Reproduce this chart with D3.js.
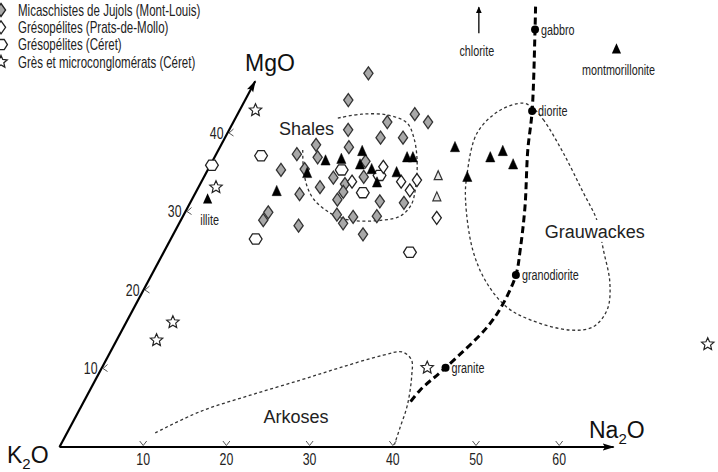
<!DOCTYPE html>
<html><head><meta charset="utf-8">
<script src="https://cdn.jsdelivr.net/npm/d3@7"></script>
<style>body{margin:0;background:#fff}svg{display:block}</style>
</head><body>
<svg id="c" width="718" height="472"></svg>
<script>
// ---- tick labels ----
const naTicks = [10, 20, 30, 40, 50, 60];
const mgTicks = [10, 20, 30, 40];
const legendLabels = ["Micaschistes de Jujols (Mont-Louis)", "Grésopélites (Prats-de-Mollo)", "Grésopélites (Céret)", "Grès et microconglomérats (Céret)"];
// ---- samples : [Na2O, MgO] ----
const jujols = [[13.1,47.6],[12.4,44.2],[21.3,42.4],[23.4,41.4],[18.5,41.4],[14.3,40.4],[18.7,39.4],[21.4,39.4],[11.4,38.5],[15.5,38.2],[9.7,37.3],[12.4,36.9],[18.4,36.4],[8.8,35.3],[11.6,35.4],[15.6,34.3],[19.2,34.4],[14.6,33.1],[17.4,33.5],[12.6,32.2],[17.7,32.5],[17.5,31.5],[22.7,31.3],[25.7,31.1],[10.0,29.9],[9.9,28.9],[18.4,29.6],[20.5,29.3],[23.3,29.4],[14.5,28.2],[19.7,28.5],[22.8,27.1]];
const prats = [[20.9,35.7],[18.1,33.8],[24.0,33.8],[25.8,34.0],[25.6,32.7],[30.6,29.2]];
const ceret = [[0.2,35.9],[5.5,37.1],[10.2,26.5],[16.1,35.3],[21.0,34.6],[20.1,32.4],[29.6,24.8]];
const gres = [[1.9,42.9],[2.1,33.1],[5.6,15.9],[4.8,13.6],[39.1,10.1],[71.3,13.1]];
// reference shales (black triangles) and grey triangles
const shalesRef = [[13.6,36.4],[15.4,36.6],[17.4,37.6],[18.0,35.9],[19.7,35.3],[21.2,33.6],[22.9,34.9],[23.2,36.8],[23.9,36.8],[12.2,34.8],[9.7,32.5],[28.3,38.1],[33.2,36.8],[34.3,37.6],[36.4,35.9],[31.7,34.3]];
const greyTri = [[28.1,34.5],[29.3,31.8]];
// minerals
const minerals = [{name:"illite", na:1.9, mg:31.5}, {name:"montmorillonite", na:41.4, mg:50.6}];
const chlorite = {name:"chlorite", na:23.8, mg:52.7};
// magmatic trend
const magmatic = [{name:"gabbro", na:30.3, mg:53.2}, {name:"diorite", na:35.2, mg:42.8}, {name:"granodiorite", na:43.8, mg:21.9}, {name:"granite", na:41.3, mg:10.1}];
const trendLine = [[28.9,56.1],[30.3,53.2],[35.2,42.8],[37.2,37.8],[40.5,30.6],[42.7,25.1],[43.8,21.9],[44.1,18.3],[43.7,15.3],[41.3,10.1],[39.7,7.3],[39.2,5.4]];
// fields
const shalesField = [[12.3,41.9],[14.9,42.4],[18.0,42.3],[20.9,41.3],[22.7,39.4],[24.5,36.6],[26.1,33.1],[26.7,30.8],[26.1,29.4],[24.3,28.9],[20.3,28.9],[17.5,29.8],[14.7,31.5],[13.0,33.2],[11.4,35.5],[10.0,38.1]];
const grauwackeField = [[34.9,43.3],[37.1,41.7],[41.6,37.5],[46.6,32.4],[50.0,28.9],[52.7,25.1],[55.6,20.9],[57.0,17.5],[56.4,15.3],[53.8,14.9],[48.4,16.2],[44.8,17.8],[40.8,20.9],[37.0,25.1],[32.9,31.5],[31.5,34.6],[30.0,40.0],[31.3,42.9],[33.6,43.8]];
const arkoseField = [[10.6,1.8],[14.6,4.5],[19.6,6.6],[24.6,8.5],[28.6,10.1],[33.0,11.7],[35.1,12.1],[36.7,11.1],[37.7,9.2],[39.1,5.4],[39.7,2.4],[40.1,0.3]];
const fieldLabels = [{name:"Shales", na:9.2, mg:40.6}, {name:"Grauwackes", na:50.5, mg:27.4}, {name:"Arkoses", na:26.5, mg:3.8}];

// ---- geometry ----
const svg = d3.select("#c");
const origin = [59.5, 447];
const naScale = d3.scaleLinear().domain([0, 100]).range([0, 832]);
const mgX = d3.scaleLinear().domain([0, 100]).range([0, 420]);
const mgY = d3.scaleLinear().domain([0, 100]).range([0, -785]);
const P = (na, mg) => [origin[0] + naScale(na) + mgX(mg), origin[1] + mgY(mg)];
const PP = d => P(d[0], d[1]);

const SANS = "'Liberation Sans',Arial,sans-serif";

const defs = svg.append("defs");
defs.append("marker").attr("id","arr").attr("viewBox","0 0 12 8").attr("refX",11).attr("refY",4)
  .attr("markerWidth",12).attr("markerHeight",8).attr("markerUnits","userSpaceOnUse").attr("orient","auto")
  .append("path").attr("d","M0,0.5 L12,4 L0,7.5 L2.5,4 Z").attr("fill","#000");
defs.append("marker").attr("id","arrs").attr("viewBox","0 0 8 8").attr("refX",7).attr("refY",4)
  .attr("markerWidth",7).attr("markerHeight",7).attr("markerUnits","userSpaceOnUse").attr("orient","auto")
  .append("path").attr("d","M0,0.5 L8,4 L0,7.5 Z").attr("fill","#000");

// narrow text helper: a condensed look made by horizontally scaling Liberation Sans
function narrow(parent, x, y, str, size, anchor, sx) {
  const g = parent.append("g").attr("transform", `translate(${x},${y}) scale(${sx || 0.77},1)`);
  return g.append("text").attr("text-anchor", anchor || "start").attr("dy", "0.35em")
    .attr("font-family", SANS).attr("font-size", size).attr("fill", "#222").text(str);
}

// ---- fields ----
const lineOpen = d3.line().x(d => PP(d)[0]).y(d => PP(d)[1]).curve(d3.curveCatmullRom.alpha(0.5));
const lineClosed = d3.line().x(d => PP(d)[0]).y(d => PP(d)[1]).curve(d3.curveCatmullRomClosed.alpha(0.5));
const fieldStyle = sel => sel.attr("fill","none").attr("stroke","#333").attr("stroke-width",1.3).attr("stroke-dasharray","3,2.6");
svg.append("path").attr("d", lineOpen(shalesField)).call(fieldStyle);
svg.append("path").attr("d", lineClosed(grauwackeField)).call(fieldStyle);
svg.append("path").attr("d", lineOpen(arkoseField)).call(fieldStyle);

// ---- axes ----
const gNa = svg.append("g").attr("transform", `translate(${origin[0]},${origin[1]})`);
gNa.call(d3.axisBottom(naScale).tickValues(naTicks).tickSize(0).tickPadding(7).tickFormat(d3.format("d")));
gNa.select(".domain").remove();
gNa.selectAll(".tick text").attr("font-family", SANS).attr("font-size", 16).attr("fill","#222")
  .attr("transform", "scale(0.77,1)");
gNa.selectAll(".tick").append("path").attr("d","M-3.5,-6 L0,-1.5 L3.5,-6").attr("fill","none").attr("stroke","#555").attr("stroke-width",1);
svg.append("line").attr("x1",origin[0]).attr("y1",origin[1]).attr("x2",P(66.6,0)[0]).attr("y2",origin[1])
  .attr("stroke","#000").attr("stroke-width",2.2).attr("marker-end","url(#arr)");

const mgEnd = P(0, 46.6);
svg.append("line").attr("x1",origin[0]).attr("y1",origin[1]).attr("x2",mgEnd[0]).attr("y2",mgEnd[1])
  .attr("stroke","#000").attr("stroke-width",2.2).attr("marker-end","url(#arr)");
const mgTg = svg.append("g");
mgTicks.forEach(t => {
  const p = P(0, t);
  mgTg.append("path").attr("transform", `translate(${p[0]},${p[1]})`).attr("d","M6,-4 L1.5,0 L6,3")
    .attr("fill","none").attr("stroke","#555").attr("stroke-width",1);
  narrow(mgTg, p[0] - 4, p[1], t, 16, "end");
});

// axis titles
const title = (x, y, main, sub, tail) => {
  const t = svg.append("text").attr("x",x).attr("y",y).attr("font-family",SANS).attr("font-size",23).attr("fill","#111");
  t.append("tspan").text(main);
  if (sub) { t.append("tspan").attr("font-size",15).attr("dy",6).text(sub); t.append("tspan").attr("dy",-6).text(tail); }
};
title(245, 71, "MgO");
title(7, 463, "K", "2", "O");
title(589, 438, "Na", "2", "O");

// ---- trend line ----
svg.append("path").attr("d", lineOpen(trendLine)).attr("fill","none").attr("stroke","#000")
  .attr("stroke-width",3).attr("stroke-dasharray","7,4");
const mgG = svg.append("g");
magmatic.forEach(d => {
  const p = P(d.na, d.mg);
  mgG.append("circle").attr("cx",p[0]).attr("cy",p[1]).attr("r",4).attr("fill","#000");
  narrow(mgG, p[0] + 6, p[1], d.name, 15, "start", 0.72);
});

// ---- field labels ----
const fl = svg.append("g").selectAll("g").data(fieldLabels).join("g")
  .attr("transform", d => `translate(${P(d.na,d.mg)[0]},${P(d.na,d.mg)[1]})`);
fl.append("rect").attr("x",-52).attr("y",-12).attr("width",104).attr("height",22).attr("fill","#fff")
  .attr("opacity", d => d.name === "Grauwackes" ? 1 : 0);
fl.append("text").attr("text-anchor","middle").attr("dy","0.35em").attr("font-family",SANS).attr("font-size",18).attr("fill","#222").text(d => d.name);

// ---- symbols ----
const diamond = "M0,-6.5 L4.6,0 L0,6.5 L-4.6,0 Z";
const hexagon = (() => { const r = 6.4; return d3.range(6).map(i => { const a = Math.PI/3*i; return (i?"L":"M") + (r*Math.cos(a)).toFixed(2) + "," + (r*0.92*Math.sin(a)).toFixed(2); }).join("") + "Z"; })();
const triangle = "M0,-6.5 L4.6,3.8 L-4.6,3.8 Z";
const triSmall = "M0,-5.5 L4,3.5 L-4,3.5 Z";
const star = (() => { const pts = []; for (let i = 0; i < 10; i++) { const r = i % 2 ? 3 : 6.5; const a = -Math.PI/2 + i*Math.PI/5; pts.push((i?"L":"M") + (r*Math.cos(a)).toFixed(2) + "," + (r*Math.sin(a)).toFixed(2)); } return pts.join("") + "Z"; })();

function plot(data, shape, fill, stroke, sw) {
  svg.append("g").selectAll("path").data(data).join("path")
    .attr("transform", d => `translate(${PP(d)[0]},${PP(d)[1]})`)
    .attr("d", shape).attr("fill", fill).attr("stroke", stroke).attr("stroke-width", sw);
}
plot(ceret, hexagon, "#fff", "#222", 1.3);
plot(jujols, diamond, "#a8a8a8", "#333", 1.3);
plot(prats, diamond, "#fff", "#222", 1.3);
plot(shalesRef, triangle, "#000", "#000", 0.5);
plot(greyTri, triSmall, "#e6e6e6", "#333", 1.2);
plot(gres, star, "#fff", "#222", 1.2);

// minerals
const mnG = svg.append("g");
minerals.forEach(d => {
  const p = P(d.na, d.mg);
  mnG.append("path").attr("transform", `translate(${p[0]},${p[1]})`).attr("d", triangle).attr("fill","#000");
  narrow(mnG, p[0] + 2, p[1] + 20, d.name, 15, "middle", 0.72);
});

// chlorite arrow
const cp = P(chlorite.na, chlorite.mg);
svg.append("line").attr("x1",cp[0]).attr("y1",cp[1]).attr("x2",cp[0]).attr("y2",cp[1]-26)
  .attr("stroke","#000").attr("stroke-width",1.3).attr("marker-end","url(#arrs)");
narrow(svg, cp[0] - 2, cp[1] + 17, chlorite.name, 15, "middle", 0.72);

// ---- legend ----
const legShapes = [[diamond,"#a8a8a8"],[diamond,"#fff"],[hexagon,"#fff"],[star,"#fff"]];
const lg = svg.append("g");
legendLabels.forEach((d, i) => {
  const y = 10 + i * 17.3;
  lg.append("path").attr("transform",`translate(1,${y})`).attr("d",legShapes[i][0]).attr("fill",legShapes[i][1]).attr("stroke","#222").attr("stroke-width",1.3);
  narrow(lg, 18, y, d, 16, "start", 0.72);
});
</script>
</body></html>
